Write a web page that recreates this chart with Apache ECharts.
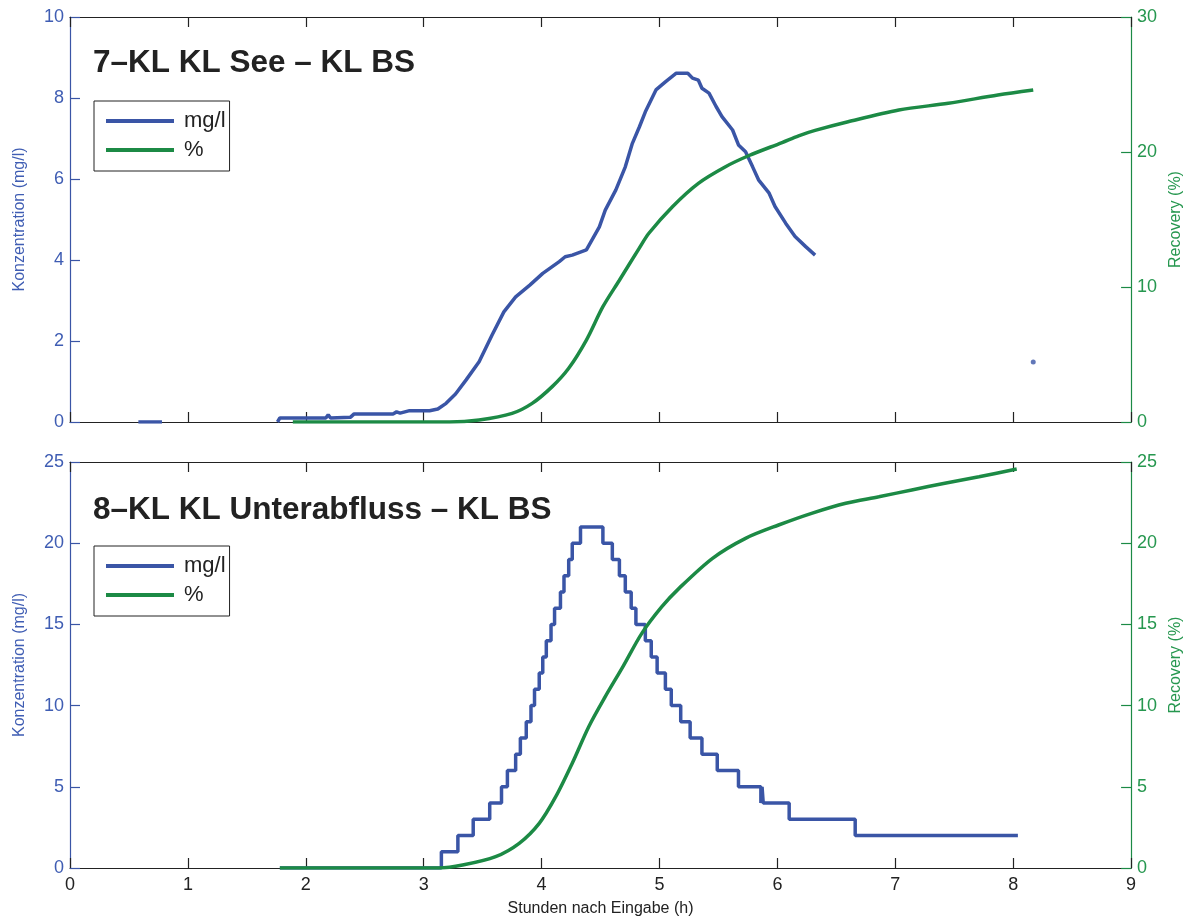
<!DOCTYPE html>
<html>
<head>
<meta charset="utf-8">
<title>Tracerversuch KL</title>
<script src="https://cdn.jsdelivr.net/npm/echarts@6/dist/echarts.min.js"></script>
<style>
  html, body { margin: 0; padding: 0; background: #fff; overflow: hidden; }
  #chart { width: 1192px; height: 920px; }
</style>
</head>
<body>
<div id="chart"></div>
<script>
// Panel 1: 7-KL KL See - KL BS
const seeConcHours = [0.58, 0.78, 0.9, 1.76, 1.78, 2.17, 2.19, 2.21, 2.38, 2.41, 2.74, 2.77, 2.80, 2.88, 3.05, 3.12,
  3.19, 3.27, 3.36, 3.47, 3.58, 3.68, 3.78, 3.90, 4.01, 4.15, 4.20, 4.26, 4.38, 4.49, 4.54, 4.63, 4.71, 4.77,
  4.83, 4.88, 4.97, 5.05, 5.14, 5.24, 5.28, 5.33, 5.36, 5.42, 5.48, 5.53, 5.62, 5.67, 5.73, 5.79, 5.84, 5.93,
  5.98, 6.07, 6.15, 6.24, 6.32];
const seeConc = [0, 0, null, 0, 0.1, 0.1, 0.18, 0.1, 0.12, 0.2, 0.2, 0.25, 0.22, 0.28, 0.28, 0.32,
  0.46, 0.69, 1.04, 1.49, 2.15, 2.72, 3.09, 3.38, 3.67, 3.96, 4.08, 4.12, 4.25, 4.82, 5.23, 5.73, 6.30, 6.88,
  7.29, 7.66, 8.20, 8.40, 8.61, 8.61, 8.49, 8.44, 8.24, 8.12, 7.79, 7.54, 7.21, 6.84, 6.67, 6.30, 5.98, 5.65,
  5.32, 4.91, 4.58, 4.33, 4.12];
const seeLateHours = [8.17];
const seeLateConc = [1.48];
const seeRecHours = [1.89, 3.22, 3.47, 3.75, 3.92, 4.09, 4.23, 4.38, 4.52, 4.66, 4.83, 4.91, 5.11, 5.33, 5.56,
  5.76, 6.04, 6.18, 6.32, 6.60, 7.03, 7.45, 7.87, 8.17];
const seeRec = [0, 0, 0.15, 0.64, 1.38, 2.62, 3.98, 6.07, 8.54, 10.5, 12.9, 13.98, 15.95, 17.68, 18.91,
  19.74, 20.7, 21.2, 21.6, 22.24, 23.11, 23.61, 24.22, 24.59];

// Panel 2: 8-KL KL Unterabfluss - KL BS (logger steps, value holds until the next hour mark)
const unterConcHours = [1.78, 3.15, 3.29, 3.42, 3.56, 3.66, 3.71, 3.78, 3.82, 3.87, 3.91, 3.94, 3.98, 4.01, 4.04,
  4.08, 4.11, 4.16, 4.19, 4.23, 4.26, 4.33, 4.52, 4.60, 4.66, 4.71, 4.76, 4.80, 4.88, 4.93, 4.98, 5.05, 5.10,
  5.18, 5.26, 5.36, 5.49, 5.67, 5.86, 5.87, 5.88, 6.10, 6.66, 8.04];
const unterConc = [0, 1, 2, 3, 4, 5, 6, 7, 8, 9, 10, 11, 12, 13, 14,
  15, 16, 17, 18, 19, 20, 21, 20, 19, 18, 17, 16, 15, 14, 13, 12, 11, 10,
  9, 8, 7, 6, 5, 4, 5, 4, 3, 2, 2];
const unterRecHours = [1.78, 3.13, 3.33, 3.61, 3.81, 3.98, 4.12, 4.26, 4.40, 4.54, 4.69, 4.85, 5.02, 5.17,
  5.45, 5.73, 6.01, 6.29, 6.58, 6.86, 7.14, 7.42, 7.71, 8.03];
const unterRec = [0, 0, 0.18, 0.70, 1.52, 2.75, 4.39, 6.45, 8.70, 10.55, 12.40, 14.45, 16.09, 17.25,
  19.07, 20.30, 21.12, 21.84, 22.46, 22.86, 23.28, 23.69, 24.09, 24.57];

const titles = ['7\u2013KL KL See \u2013 KL BS', '8\u2013KL KL Unterabfluss \u2013 KL BS'];
const legendNames = ['mg/l', '%'];
const hourTicks = [0, 9, 1];

const BLUE = '#3a55a6';
const GREEN = '#1c8a45';
const BLUE_TXT = '#3f5db3';
const GREEN_TXT = '#26974f';
const INK = '#222';
const FONT = '"Liberation Sans", Arial, Helvetica, sans-serif';

const zip = (xs, ys) => xs.map((x, i) => [x, ys[i]]);

function xAx(gridIndex, position, showLabels, name) {
  return {
    type: 'value', gridIndex, position,
    min: hourTicks[0], max: hourTicks[1], interval: hourTicks[2],
    name: name || '', nameLocation: 'middle', nameGap: 33,
    nameTextStyle: { color: INK, fontSize: 16, fontFamily: FONT },
    axisLine: { show: true, onZero: false, lineStyle: { color: INK, width: 1.2 } },
    axisTick: { show: true, inside: true, length: 10, lineStyle: { color: INK, width: 1.2 } },
    axisLabel: { show: showLabels, color: INK, fontSize: 18, fontFamily: FONT, margin: 8 },
    splitLine: { show: false }
  };
}

function yAx(gridIndex, position, max, interval, color, txt, name, gap) {
  return {
    type: 'value', gridIndex, position, min: 0, max, interval,
    name, nameLocation: 'middle', nameGap: gap, nameRotate: 90,
    nameTextStyle: { color: txt, fontSize: 16, fontFamily: FONT },
    axisLine: { show: true, onZero: false, lineStyle: { color, width: 1.2 } },
    axisTick: { show: true, inside: true, length: 10, lineStyle: { color, width: 1.2 } },
    axisLabel: { color: txt, fontSize: 18, fontFamily: FONT, margin: 6 },
    splitLine: { show: false }
  };
}

function legendAt(top) {
  return {
    orient: 'vertical', left: 94, top,
    data: legendNames,
    icon: 'rect', itemWidth: 68, itemHeight: 4, itemGap: 7,
    padding: [9, 4, 10, 12],
    backgroundColor: '#fff', borderColor: INK, borderWidth: 1, borderRadius: 0,
    selectedMode: false,
    textStyle: { color: INK, fontSize: 22, fontFamily: FONT, lineHeight: 22, padding: [0, 0, 0, 5] }
  };
}

const lineBase = (color, smooth) => ({
  type: 'line', showSymbol: false, symbol: 'none', connectNulls: false,
  smooth: smooth || false,
  lineStyle: { color, width: 3.5 }, itemStyle: { color },
  emphasis: { disabled: true }
});

const option = {
  animation: false,
  backgroundColor: '#fff',
  textStyle: { fontFamily: FONT },
  title: [
    { text: titles[0], left: 88, top: 42, textStyle: { fontSize: 31.5, fontWeight: 'bold', color: INK, fontFamily: FONT } },
    { text: titles[1], left: 88, top: 489, textStyle: { fontSize: 31.5, fontWeight: 'bold', color: INK, fontFamily: FONT } }
  ],
  legend: [legendAt(101), legendAt(546)],
  grid: [
    { left: 70, right: 57, top: 17, height: 405 },
    { left: 70, right: 57, top: 462, height: 406 }
  ],
  xAxis: [
    xAx(0, 'bottom', false),
    xAx(0, 'top', false),
    xAx(1, 'bottom', true, 'Stunden nach Eingabe (h)'),
    xAx(1, 'top', false)
  ],
  yAxis: [
    yAx(0, 'left', 10, 2, BLUE, BLUE_TXT, 'Konzentration (mg/l)', 42),
    yAx(0, 'right', 30, 10, GREEN, GREEN_TXT, 'Recovery (%)', 30),
    yAx(1, 'left', 25, 5, BLUE, BLUE_TXT, 'Konzentration (mg/l)', 42),
    yAx(1, 'right', 25, 5, GREEN, GREEN_TXT, 'Recovery (%)', 30)
  ],
  series: [
    Object.assign(lineBase(BLUE), { name: 'mg/l', xAxisIndex: 0, yAxisIndex: 0, data: zip(seeConcHours, seeConc) }),
    { name: 'mg/l', type: 'scatter', xAxisIndex: 0, yAxisIndex: 0, symbolSize: 5,
      itemStyle: { color: BLUE }, emphasis: { disabled: true }, data: zip(seeLateHours, seeLateConc) },
    Object.assign(lineBase(GREEN, 0.3), { name: '%', xAxisIndex: 0, yAxisIndex: 1, data: zip(seeRecHours, seeRec) }),
    Object.assign(lineBase(BLUE), { name: 'mg/l', xAxisIndex: 2, yAxisIndex: 2, step: 'end', data: zip(unterConcHours, unterConc) }),
    Object.assign(lineBase(GREEN, 0.3), { name: '%', xAxisIndex: 2, yAxisIndex: 3, data: zip(unterRecHours, unterRec) })
  ]
};

const chart = echarts.init(document.getElementById('chart'), null, { renderer: 'canvas' });
chart.setOption(option);
</script>
</body>
</html>
